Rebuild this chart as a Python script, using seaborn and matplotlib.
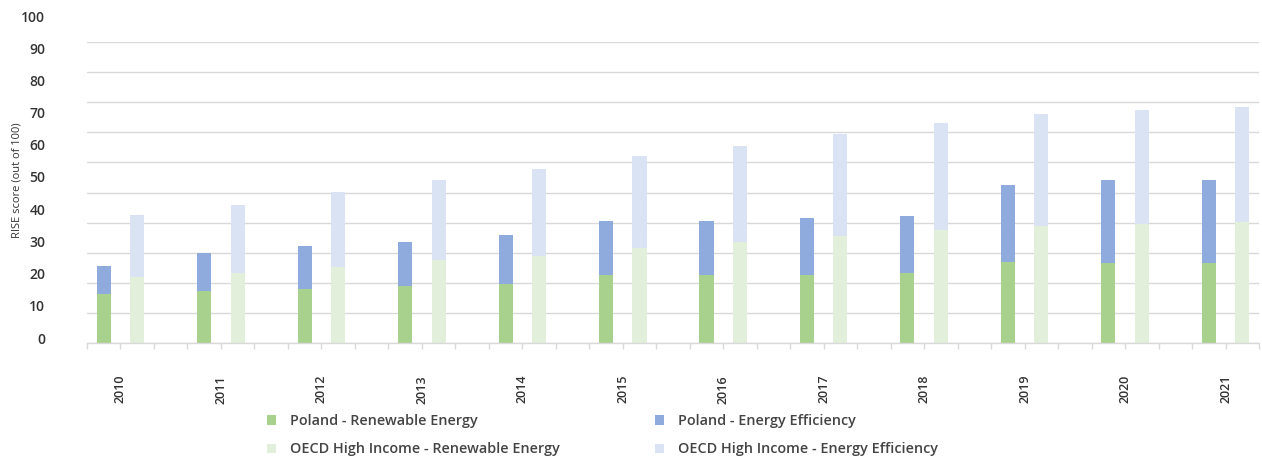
import numpy as np
import pandas as pd
import matplotlib
matplotlib.use("Agg")
import matplotlib.pyplot as plt
from matplotlib.patches import Patch
import seaborn as sns

years = ["2010", "2011", "2012", "2013", "2014", "2015", "2016", "2017", "2018", "2019", "2020", "2021"]
poland_re = [16.4, 17.4, 17.9, 18.9, 19.6, 22.5, 22.5, 22.5, 23.2, 26.9, 26.6, 26.6]
poland_ee = [9.2, 12.5, 14.2, 14.8, 16.3, 17.9, 17.9, 18.9, 18.9, 25.7, 27.7, 27.7]
oecd_re = [21.9, 23.3, 25.2, 27.6, 28.9, 31.7, 33.6, 35.5, 37.6, 39.0, 39.5, 40.2]
oecd_ee = [20.6, 22.5, 24.9, 26.6, 28.9, 30.4, 31.8, 33.9, 35.5, 37.1, 37.9, 38.2]
series_names = ["Poland - Renewable Energy", "Poland - Energy Efficiency",
                "OECD High Income - Renewable Energy", "OECD High Income - Energy Efficiency"]
colors = ["#A9D18E", "#8FAADC", "#E2EFDA", "#DAE3F3"]
y_ticks = [0, 10, 20, 30, 40, 50, 60, 70, 80, 90, 100]

sns.set_theme(style="white")
plt.rcParams["font.family"] = ["Open Sans", "DejaVu Sans"]

W, H = 1262, 458
fig = plt.figure(figsize=(W / 100, H / 100), dpi=100)
ax_l, ax_r, ax_b, ax_t = 87, 1259, 343, 42
ax = fig.add_axes([ax_l / W, (H - ax_b) / H, (ax_r - ax_l) / W, (ax_b - ax_t) / H])

n = len(years)
pol_x = np.arange(n) * 3.0
oecd_x = np.arange(n) * 3.0 + 1.0
pol_tot = np.array(poland_re) + np.array(poland_ee)
oecd_tot = np.array(oecd_re) + np.array(oecd_ee)

common = dict(native_scale=True, width=0.14, linewidth=0, ax=ax, saturation=1)
sns.barplot(x=pol_x, y=pol_tot, color=colors[1], **common)
sns.barplot(x=pol_x, y=poland_re, color=colors[0], **common)
sns.barplot(x=oecd_x, y=oecd_tot, color=colors[3], **common)
sns.barplot(x=oecd_x, y=oecd_re, color=colors[2], **common)

ax.set_xlim(-0.5, 3 * n - 1 - 0.5)
ax.set_ylim(0, 100)
ax.set_yticks(y_ticks)
ax.yaxis.grid(True, color="#D9D9D9", linewidth=1)
ax.set_axisbelow(True)
ax.tick_params(axis="y", left=False, labelleft=False)
for s in ["top", "right", "left"]:
    ax.spines[s].set_visible(False)
ax.spines["bottom"].set_color("#D9D9D9")
ax.spines["bottom"].set_linewidth(1)

# minor ticks at slot boundaries, labels at year positions
ax.set_xticks(np.arange(-0.5, 3 * n - 1, 1.0), minor=True)
ax.set_xticks(pol_x + 0.5)
ax.set_xticklabels(years, rotation=90, fontsize=9, color="#333333", fontweight="semibold")
ax.tick_params(axis="x", which="major", length=4, color="#D9D9D9", width=1, pad=19, bottom=True)
ax.tick_params(axis="x", which="minor", length=4, color="#D9D9D9", width=1, bottom=True)
ax.set_xlabel("")
ax.set_ylabel("")

# y tick labels (drawn on a separate invisible axis, offset as in the reference)
lab_b, lab_t = 338, 16
ax2 = fig.add_axes([ax_l / W, (H - lab_b) / H, (ax_r - ax_l) / W, (lab_b - lab_t) / H])
ax2.set_ylim(0, 100)
ax2.set_yticks(y_ticks)
ax2.set_yticklabels([str(v) for v in y_ticks], fontsize=10, color="#333333", fontweight="semibold")
ax2.tick_params(axis="y", left=False, pad=24)
ax2.set_xticks([])
ax2.patch.set_visible(False)
for s in ax2.spines.values():
    s.set_visible(False)

fig.text(17 / W, 1 - 180 / H, "RISE score (out of 100)", rotation=90, ha="center", va="center",
         fontsize=8, color="#333333")

# legend filled column-wise, so order entries to give rows: Poland / OECD
order = [0, 2, 1, 3]
handles = [Patch(facecolor=colors[i], edgecolor="none") for i in order]
labels = [series_names[i] for i in order]
fig.legend(handles, labels, loc="upper left", bbox_to_anchor=(254 / W, 1 - 401 / H),
           ncol=2, frameon=False, handlelength=0.62, handleheight=0.62,
           handletextpad=0.95, columnspacing=6.6, labelspacing=1.0,
           labelcolor="#444444", prop={"weight": "semibold", "size": 10.4})

fig.savefig("out.png", dpi=100)
